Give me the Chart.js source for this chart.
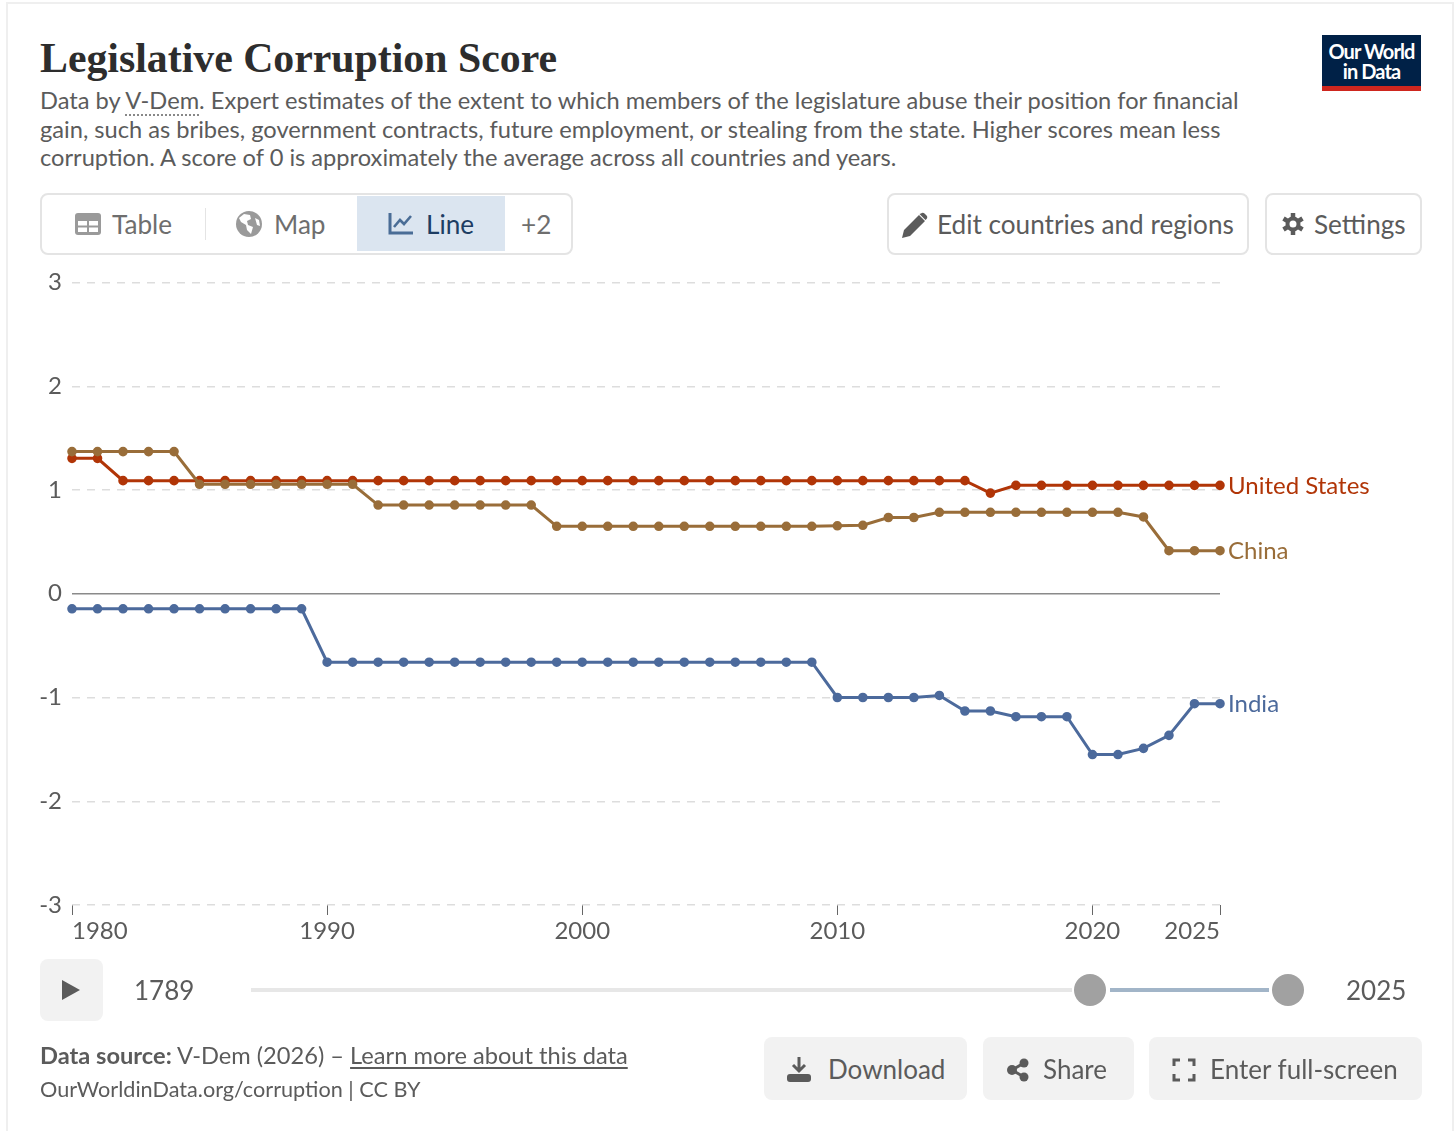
<!DOCTYPE html>
<html>
<head>
<meta charset="utf-8">
<title>Legislative Corruption Score</title>
<script src="https://cdn.jsdelivr.net/npm/chart.js@4/dist/chart.umd.min.js"></script>
<style>
  html, body { margin: 0; padding: 0; background: #fff; }
  body { width: 1456px; height: 1131px; overflow: hidden; position: relative; font-family: Lato, sans-serif; color: #5b5b5b; }
  .frame { position: absolute; left: 6px; top: 2px; width: 1448px; height: 1140px; border: 2px solid #efefef; box-sizing: border-box; }
  .abs { position: absolute; white-space: nowrap; }
  h1 { position: absolute; left: 40px; top: 33px; margin: 0; font: bold 41.8px/50px "Liberation Serif", serif; color: #2d2d2d; white-space: nowrap; }
  .subtitle { left: 40px; top: 86px; font-size: 23.65px; line-height: 28.6px; color: #5b5b5b; }
  .vdem { border-bottom: 2px dotted #888; }
  .logo { left: 1322px; top: 35px; width: 99px; height: 56px; background: #002147; border-bottom: 5px solid #ce261e; box-sizing: border-box; color: #fff; text-align: center; font-size: 20px; line-height: 20px; font-weight: 700; padding-top: 6px; letter-spacing: -0.9px; }
  .box { position: absolute; box-sizing: border-box; border: 2px solid #e4e4e4; border-radius: 8px; background: #fff; }
  .active { position: absolute; left: 357px; top: 196px; width: 148px; height: 55px; background: #dbe5f0; }
  .divider { position: absolute; left: 205px; top: 208px; width: 1px; height: 32px; background: #e4e4e4; }
  .label { font-size: 26.15px; line-height: 32px; top: 208px; }
  .grey { position: absolute; background: #f2f2f2; border-radius: 8px; }
  .btn { font-size: 26px; line-height: 32px; top: 1053px; }
  .year { font-size: 26px; line-height: 32px; top: 974px; }
  svg { position: absolute; overflow: visible; }
  #chart { position: absolute; left: 0; top: 0; }
</style>
</head>
<body>
<div class="frame"></div>
<h1>Legislative Corruption Score</h1>
<div class="abs subtitle">Data by <span class="vdem">V-Dem</span>. Expert estimates of the extent to which members of the legislature abuse their position for financial<br>gain, such as bribes, government contracts, future employment, or stealing from the state. Higher scores mean less<br>corruption. A score of 0 is approximately the average across all countries and years.</div>
<div class="abs logo">Our World<br>in Data</div>

<div class="box" style="left:40px;top:193px;width:533px;height:62px"></div>
<div class="active"></div>
<div class="divider"></div>
<svg style="left:75px;top:213px" width="26" height="22" viewBox="0 0 26 22"><rect x="0" y="0" width="26" height="22" rx="3" fill="#9a9a9a"/><rect x="3" y="8" width="9" height="4.5" fill="#fff"/><rect x="14" y="8" width="9" height="4.5" fill="#fff"/><rect x="3" y="14.5" width="9" height="4.5" fill="#fff"/><rect x="14" y="14.5" width="9" height="4.5" fill="#fff"/></svg>
<div class="abs label" style="left:112px;color:#6e6e6e">Table</div>
<svg style="left:236px;top:211px" width="26" height="26" viewBox="0 0 26 26"><circle cx="13" cy="13" r="13" fill="#9a9a9a"/><path d="M8 3l6 1 1 4-4 2 1 4 5 2-2 7-4-4-1-5-5-3-2-4z M19 7l4 2 1 6-3-1z" fill="#fff"/></svg>
<div class="abs label" style="left:274px;color:#6e6e6e">Map</div>
<svg style="left:388px;top:212px" width="26" height="24" viewBox="0 0 26 24"><path d="M2 1v20h23" fill="none" stroke="#4a6d96" stroke-width="3"/><path d="M6 15l6-7 4 4 7-8" fill="none" stroke="#4a6d96" stroke-width="2.6"/></svg>
<div class="abs label" style="left:426px;color:#1d3d63">Line</div>
<div class="abs label" style="left:521px;color:#6e6e6e">+2</div>

<div class="box" style="left:887px;top:193px;width:362px;height:62px"></div>
<svg style="left:902px;top:212px" width="26" height="26" viewBox="0 0 26 26"><path d="M0 26l2-8L17 3l6 6L8 24z M19 1.5c1-1 2.500-1 3.500 0l2 2c1 1 1 2.500 0 3.500l-1 1-6-6z" fill="#5b5b5b"/></svg>
<div class="abs label" style="left:937px">Edit countries and regions</div>
<div class="box" style="left:1265px;top:193px;width:157px;height:62px"></div>
<svg style="left:1281px;top:212px" width="24" height="24" viewBox="0 0 24 24"><path d="M12 4.500a7.500 7.500 0 1 0 0 15a7.500 7.500 0 1 0 0-15z M12 8.500a3.500 3.500 0 1 1 0 7a3.500 3.500 0 1 1 0-7z" fill="#5b5b5b" fill-rule="evenodd"/><g stroke="#5b5b5b" stroke-width="4.500"><line x1="12" y1="1" x2="12" y2="6"/><line x1="12" y1="18" x2="12" y2="23"/><line x1="2.500" y1="6.500" x2="6.500" y2="9"/><line x1="17.500" y1="15" x2="21.500" y2="17.500"/><line x1="2.500" y1="17.500" x2="6.500" y2="15"/><line x1="17.500" y1="9" x2="21.500" y2="6.500"/></g></svg>
<div class="abs label" style="left:1314px">Settings</div>

<canvas id="chart" width="1456" height="1131"></canvas>

<div class="grey" style="left:40px;top:959px;width:63px;height:62px"></div>
<svg style="left:62px;top:980px" width="18" height="20" viewBox="0 0 18 20"><path d="M0 0L18 10L0 20z" fill="#5b5b5b"/></svg>
<div class="abs year" style="left:134px">1789</div>
<div class="abs" style="left:251px;top:988px;width:821px;height:4px;background:#e7e7e7"></div>
<div class="abs" style="left:1110px;top:988px;width:159px;height:4px;background:#a2b5c8"></div>
<div class="abs" style="left:1074px;top:974px;width:32px;height:32px;border-radius:50%;background:#a1a1a1"></div>
<div class="abs" style="left:1272px;top:974px;width:32px;height:32px;border-radius:50%;background:#a1a1a1"></div>
<div class="abs year" style="left:1346px">2025</div>

<div class="abs" style="left:40px;top:1040px;font-size:23.65px;line-height:30px"><b>Data source:</b> V-Dem (2026) – <span style="text-decoration:underline;text-underline-offset:3px">Learn more about this data</span></div>
<div class="abs" style="left:40px;top:1075px;font-size:21.65px;line-height:28px">OurWorldinData.org/corruption | CC BY</div>

<div class="grey" style="left:764px;top:1037px;width:203px;height:63px"></div>
<svg style="left:787px;top:1057px" width="24" height="25" viewBox="0 0 24 25"><path d="M12 0v13M6 8l6 6 6-6" fill="none" stroke="#5b5b5b" stroke-width="3"/><rect x="0" y="17" width="24" height="8" rx="3" fill="#5b5b5b"/></svg>
<div class="abs btn" style="left:828px">Download</div>
<div class="grey" style="left:983px;top:1037px;width:151px;height:63px"></div>
<svg style="left:1007px;top:1059px" width="22" height="22" viewBox="0 0 22 22"><path d="M5 11L17 4M5 11l12 7" stroke="#5b5b5b" stroke-width="3"/><circle cx="5" cy="11" r="5" fill="#5b5b5b"/><circle cx="17" cy="4" r="4.500" fill="#5b5b5b"/><circle cx="17" cy="18" r="4.500" fill="#5b5b5b"/></svg>
<div class="abs btn" style="left:1043px">Share</div>
<div class="grey" style="left:1149px;top:1037px;width:273px;height:63px"></div>
<svg style="left:1173px;top:1059px" width="22" height="22" viewBox="0 0 22 22"><path d="M1 7V1h6M15 1h6v6M21 15v6h-6M7 21H1v-6" fill="none" stroke="#5b5b5b" stroke-width="3"/></svg>
<div class="abs btn" style="left:1210px">Enter full-screen</div>

<script>
const years = [1980,1981,1982,1983,1984,1985,1986,1987,1988,1989,1990,1991,1992,1993,1994,1995,1996,1997,1998,1999,2000,2001,2002,2003,2004,2005,2006,2007,2008,2009,2010,2011,2012,2013,2014,2015,2016,2017,2018,2019,2020,2021,2022,2023,2024,2025];

const unitedStates = [1.305,1.305,1.09,1.09,1.09,1.09,1.09,1.09,1.09,1.09,1.09,1.09,1.09,1.09,1.09,1.09,1.09,1.09,1.09,1.09,1.09,1.09,1.09,1.09,1.09,1.09,1.09,1.09,1.09,1.09,1.09,1.09,1.09,1.09,1.09,1.09,0.97,1.045,1.045,1.045,1.045,1.045,1.045,1.045,1.045,1.045];
const china = [1.37,1.37,1.37,1.37,1.37,1.055,1.055,1.055,1.055,1.055,1.055,1.055,0.855,0.855,0.855,0.855,0.855,0.855,0.855,0.65,0.65,0.65,0.65,0.65,0.65,0.65,0.65,0.65,0.65,0.65,0.655,0.66,0.735,0.735,0.785,0.785,0.785,0.785,0.785,0.785,0.785,0.785,0.74,0.415,0.415,0.415];
const india = [-0.145,-0.145,-0.145,-0.145,-0.145,-0.145,-0.145,-0.145,-0.145,-0.145,-0.66,-0.66,-0.66,-0.66,-0.66,-0.66,-0.66,-0.66,-0.66,-0.66,-0.66,-0.66,-0.66,-0.66,-0.66,-0.66,-0.66,-0.66,-0.66,-0.66,-1.0,-1.0,-1.0,-1.0,-0.98,-1.13,-1.13,-1.185,-1.185,-1.185,-1.55,-1.55,-1.49,-1.365,-1.06,-1.06];

const xTicks = [1980, 1990, 2000, 2010, 2020, 2025];
const yTicks = [-3, -2, -1, 0, 1, 2, 3];

const toPoints = (values) => values.map((v, i) => ({ x: years[i], y: v }));

const series = (label, values, color) => ({
  label: label,
  data: toPoints(values),
  borderColor: color,
  backgroundColor: color,
  borderWidth: 3,
  pointRadius: 3.3,
  pointHoverRadius: 3.3,
  tension: 0,
  clip: false,
});

// names at the right end of each line
const endLabels = {
  id: 'endLabels',
  afterDatasetsDraw(chart) {
    const ctx = chart.ctx;
    ctx.save();
    ctx.font = '24px Lato';
    ctx.textAlign = 'left';
    ctx.textBaseline = 'middle';
    chart.data.datasets.forEach((ds, i) => {
      const last = chart.getDatasetMeta(i).data[ds.data.length - 1];
      ctx.fillStyle = ds.borderColor;
      ctx.fillText(ds.label, last.x + 8, last.y + 1);
    });
    ctx.restore();
  }
};

new Chart(document.getElementById('chart').getContext('2d'), {
  type: 'line',
  data: {
    datasets: [
      series('India', india, '#4c6a9c'),
      series('China', china, '#996d39'),
      series('United States', unitedStates, '#b13507'),
    ]
  },
  options: {
    responsive: false,
    animation: false,
    events: [],
    layout: { padding: { left: 0, right: 236, top: 282.5, bottom: 176 } },
    plugins: { legend: { display: false }, tooltip: { enabled: false } },
    scales: {
      x: {
        type: 'linear',
        min: 1980,
        max: 2025,
        afterBuildTicks: (axis) => { axis.ticks = xTicks.map((v) => ({ value: v })); },
        afterFit: (axis) => { axis.height = 50; },
        border: { display: false },
        grid: { drawOnChartArea: false, drawTicks: true, tickLength: 10, tickColor: '#666', tickWidth: 1 },
        ticks: {
          align: 'inner',
          maxRotation: 0,
          autoSkip: false,
          padding: 2,
          color: '#5b5b5b',
          font: { family: 'Lato', size: 24 },
          callback: (v) => String(v),
        },
      },
      y: {
        min: -3,
        max: 3,
        afterBuildTicks: (axis) => { axis.ticks = yTicks.map((v) => ({ value: v })); },
        afterFit: (axis) => { axis.width = 72; },
        border: { display: false, dash: (c) => (c.tick && c.tick.value === 0 ? [] : [8, 7]) },
        grid: {
          drawTicks: false,
          lineWidth: 1.5,
          color: (c) => (c.tick && c.tick.value === 0 ? '#8a8a8a' : '#dddddd'),
        },
        ticks: {
          padding: 10,
          color: '#5b5b5b',
          font: { family: 'Lato', size: 24 },
        },
      },
    },
  },
  plugins: [endLabels],
});
</script>
</body>
</html>
